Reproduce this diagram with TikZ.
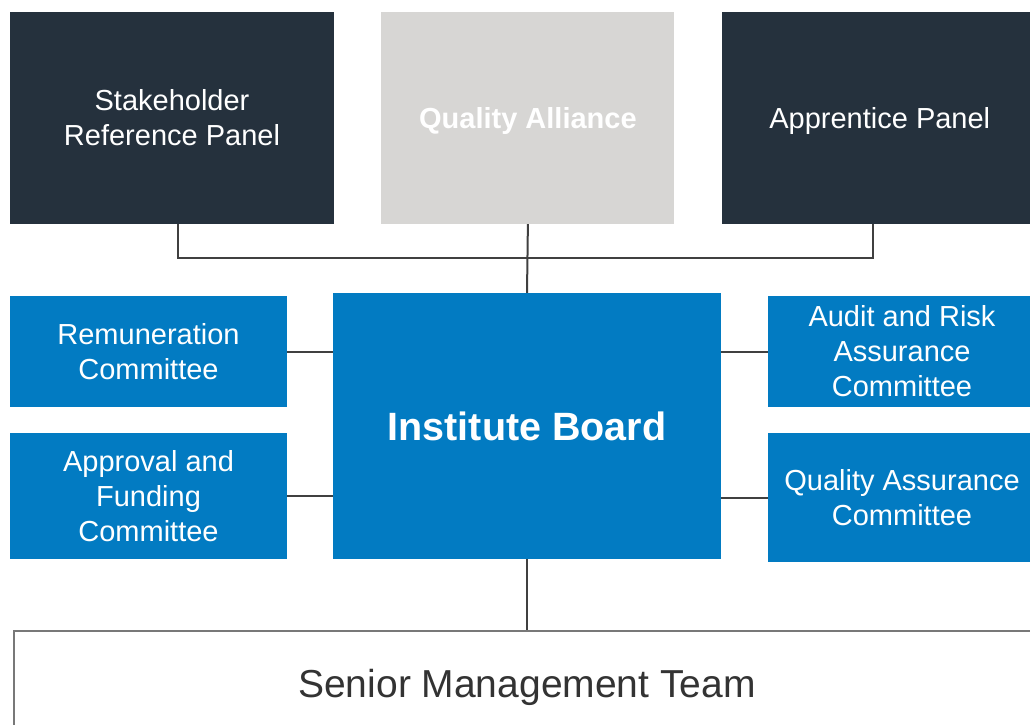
\documentclass[tikz,border=0pt]{standalone}
\usepackage{fontspec}
\setmainfont{Liberation Sans}
\usetikzlibrary{positioning}
\definecolor{panelnavy}{HTML}{25313D}
\definecolor{panelgrey}{HTML}{D7D6D4}
\definecolor{boardblue}{HTML}{027BC2}
\definecolor{linkgrey}{HTML}{404040}
\definecolor{teamtext}{HTML}{333333}
\definecolor{teamframe}{HTML}{787878}

\begin{document}
\begin{tikzpicture}[
        x=1pt, y=-1pt,
        box/.style={rectangle, inner sep=0pt, align=center, text=white,
            font=\fontsize{29}{35}\selectfont},
        panel/.style={box, fill=panelnavy, minimum height=212pt},
        committee/.style={box, fill=boardblue, minimum width=277pt},
        link/.style={draw=linkgrey, line width=2pt}
    ]
        \useasboundingbox (0,0) rectangle (1030,724);

        % Top panels
        \node[panel, minimum width=324pt] (stake) at (172,118) {Stakeholder\\Reference Panel};
        \node[panel, fill=panelgrey, minimum width=293pt, font=\fontsize{29}{35}\selectfont\bfseries,
            text depth=0pt, right=47pt of stake] (alliance) {Quality Alliance};
        \node[panel, minimum width=316pt, text depth=0pt, right=47pt of alliance] (apprentice) {Apprentice Panel};

        % Board and committees
        \node[box, fill=boardblue, minimum width=388pt, minimum height=266pt, text depth=0pt,
            font=\fontsize{39.5}{46}\selectfont\bfseries] (board) at (527,426) {Institute Board};
        \node[committee, minimum height=111pt] (remun) at (148.5,351.5) {Remuneration\\Committee};
        \node[committee, minimum height=126pt] (approval) at (148.5,496) {Approval and\\Funding\\Committee};
        \node[committee, minimum width=268pt, minimum height=111pt] (audit) at (902,351.5) {Audit and Risk\\Assurance\\Committee};
        \node[committee, minimum width=268pt, minimum height=129pt] (qacomm) at (902,497.5) {Quality Assurance\\Committee};

        % Senior team
        \node[box, draw=teamframe, line width=1.5pt, fill=white, text=teamtext,
            minimum width=1026pt, minimum height=105pt, text depth=0pt,
            font=\fontsize{39}{45}\selectfont] (team) at (527,683.5) {Senior Management Team};

        % Connectors
        \coordinate (bus) at (alliance.south |- 0,258);
        \draw[link] ([xshift=6pt]stake.south) |- (bus) -| ([xshift=-7pt]apprentice.south);
        \draw[link] (alliance.south) -- (board.north);
        \draw[link] (remun.east) -- (board.west |- remun.east);
        \draw[link] (approval.east) -- (board.west |- approval.east);
        \draw[link] (audit.west) -- (board.east |- audit.west);
        \draw[link] (qacomm.west) -- (board.east |- qacomm.west);
        \draw[link] (board.south) -- (team.north);
    \end{tikzpicture}
\end{document}
